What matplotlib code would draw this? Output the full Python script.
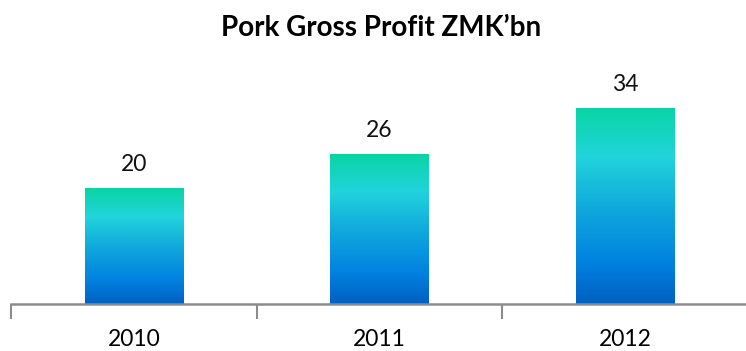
import numpy as np
import matplotlib.pyplot as plt
from matplotlib.colors import LinearSegmentedColormap

years = ['2010', '2011', '2012']
profit = [20, 26, 34]

plt.rcParams['font.family'] = ['Lato', 'DejaVu Sans']

fig = plt.figure(figsize=(7.46, 3.51), dpi=100)
ax = fig.add_axes([11 / 746, 1 - 304 / 351, 737 / 746, 244 / 351])

# vertical gradient, bottom -> top
cmap = LinearSegmentedColormap.from_list('bar', [
    (0.0, '#0060c0'),
    (0.2, '#0080e0'),
    (0.5, '#10aadc'),
    (0.75, '#22d3dc'),
    (1.0, '#08d6a4'),
])
grad = np.linspace(0, 1, 256).reshape(-1, 1)

width = 0.40
x = np.arange(len(years))
bars = ax.bar(x, profit, width=width, color='none')
for bar, v in zip(bars, profit):
    x0 = bar.get_x()
    ax.imshow(grad, cmap=cmap, origin='lower', aspect='auto',
              extent=[x0, x0 + width, 0, v], zorder=2)
    ax.text(bar.get_x() + width / 2, v + 2.4, str(v), ha='center', va='bottom',
            fontsize=16.5, color='#111111')

ax.set_xlim(-0.5, len(years) - 0.5)
ax.set_ylim(0, 42.4)
ax.set_xticks(x)
ax.set_xticklabels(years, fontsize=16.5)
ax.set_xticks(np.arange(len(years) + 1) - 0.5, minor=True)
ax.tick_params(axis='x', which='major', length=0, pad=18)
ax.tick_params(axis='x', which='minor', length=11, width=1.5, color='#8c8c8c')
ax.set_yticks([])
for s in ['top', 'right', 'left']:
    ax.spines[s].set_visible(False)
ax.spines['bottom'].set_color('#8c8c8c')
ax.spines['bottom'].set_linewidth(1.8)

fig.text(381 / 746, 1 - 28 / 351, 'Pork Gross Profit ZMK’bn', ha='center', va='center',
         fontsize=20, fontweight='bold')

fig.savefig('out.png', dpi=100)
